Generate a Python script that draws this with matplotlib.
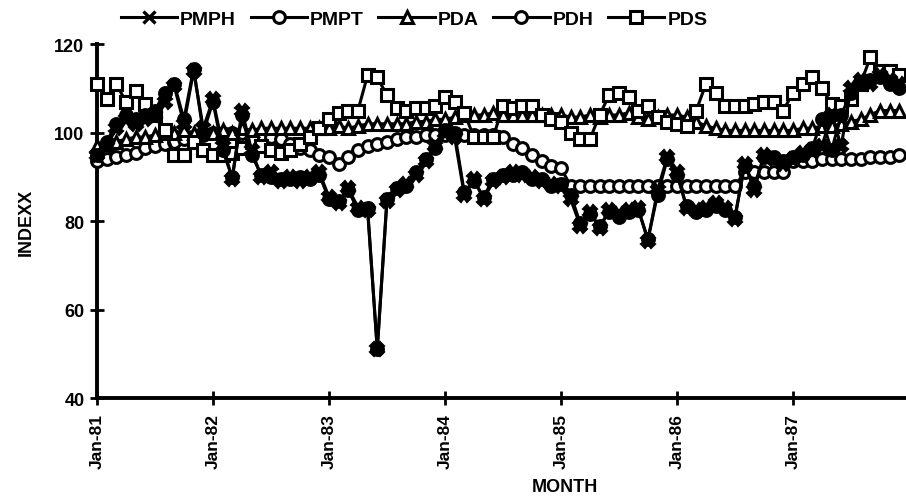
import matplotlib
matplotlib.use("Agg")
import matplotlib.pyplot as plt
from matplotlib.lines import Line2D
import numpy as np

plt.rcParams['font.family'] = ['Liberation Sans Narrow', 'Liberation Sans', 'DejaVu Sans']
plt.rcParams['font.weight'] = 'bold'

tick_labels = ["Jan-81", "Jan-82", "Jan-83", "Jan-84", "Jan-85", "Jan-86", "Jan-87"]

PMPH = [95, 97, 101, 103, 102, 103, 104, 107, 110.5, 102, 114, 101,
        107.5, 97, 89.5, 105, 96, 90, 91, 89, 90, 89, 90, 91,
        85.5, 84, 87.5, 83, 82.5, 51, 84.5, 87, 88.5, 90.5, 93.5, 97,
        100, 99, 86, 89.5, 85, 89, 90, 91, 90.5, 90, 89, 88.5,
        88, 85, 79, 82, 78.5, 82.5, 81.5, 82.5, 83, 75.5, 87, 94.5,
        91, 83, 82.5, 83, 84, 83, 80.5, 93, 87, 95, 94, 93,
        94, 95.5, 96, 97, 104, 97, 110, 112, 111, 113, 112, 111]

PMPT = [93.5, 94, 94.5, 95, 95.5, 96.5, 97, 97.5, 98, 98.5, 99, 99.5,
        100, 100, 100, 100, 99.5, 99.5, 99, 98.5, 97.5, 96.5, 96, 95,
        94.5, 93, 94.5, 96, 97, 97.5, 98, 98.5, 99, 99, 99.5, 99.5,
        99.5, 99.5, 99.5, 99.5, 99.5, 99.5, 99, 97.5, 96.5, 95, 93.5, 92.5,
        92, 88, 88, 88, 88, 88, 88, 88, 88, 88, 88, 88,
        88, 88, 88, 88, 88, 88, 88, 91, 91, 91, 91, 91,
        93.5, 93.5, 93.5, 94, 94, 94, 94, 94, 94.5, 94.5, 94.5, 95]

PDA = [97, 97.5, 98, 98.5, 99, 99, 99.5, 100, 100, 100.5, 100, 100,
       100, 100.5, 100, 101, 100.5, 101, 101, 101, 101, 101, 101, 101,
       101, 101.5, 101, 101.5, 102, 102, 102, 102, 102, 102.5, 102.5, 103,
       103, 103.5, 104, 104, 104, 104.5, 104, 104, 104, 104, 104, 104,
       104, 103.5, 103.5, 104, 103.5, 104, 104, 104.5, 103.5, 103, 103.5, 104,
       104, 103.5, 102.5, 101.5, 101, 100.5, 100.5, 100.5, 100.5, 100.5, 100.5, 100.5,
       100.5, 101, 101, 101.5, 101.5, 102, 102.5, 103, 104, 105, 105, 105]

PDH = [95, 98, 102, 104, 103, 104, 105, 109, 111, 103, 114.5, 100,
       107, 96, 90, 104, 95, 90.5, 90, 89.5, 89.5, 90, 89.5, 90.5,
       85, 84.5, 87, 82.5, 83, 51, 85, 87.5, 88, 91, 94, 96.5,
       100.5, 100, 86.5, 89, 85.5, 89.5, 90.5, 90.5, 91, 89.5, 89.5, 88,
       88.5, 86, 79.5, 81.5, 79, 82, 81, 82, 82.5, 76, 86, 94,
       90.5, 83.5, 82, 82.5, 83.5, 82.5, 81, 92.5, 88, 94.5, 94.5, 93.5,
       94.5, 95, 96.5, 103, 96, 104, 109, 111, 112, 112.5, 111, 110]

PDS = [111, 107.5, 111, 107, 109.5, 106.5, 104, 100.5, 95, 95, 98, 96,
       95, 95, 95.5, 96.5, 98, 97, 96, 95.5, 96, 97.5, 99, 101,
       103, 104.5, 105, 105, 113, 112.5, 108.5, 105.5, 105, 105.5, 105.5, 106,
       108, 107, 104.5, 99, 99, 99, 106, 105.5, 106, 106, 104, 103,
       102.5, 100, 98.5, 98.5, 104, 108.5, 109, 108, 105, 106, 103.5, 102.5,
       102, 101.5, 105, 111, 109, 106, 106, 106, 106.5, 107, 107, 105,
       109, 111, 112.5, 110, 106.5, 106, 107.5, 111, 117, 114, 114, 113]

months = np.arange(len(PDS))

fig = plt.figure(figsize=(9.06, 5.02), dpi=100)
ax = fig.add_axes([0.107, 0.205, 0.893, 0.705])

lw = 2.2
ms = 8.5
mw = 2.2
ax.plot(months, PMPT, color='black', lw=lw, marker='o', ms=ms, mfc='white', mec='black', mew=mw, clip_on=False, zorder=3)
ax.plot(months, PDA, color='black', lw=lw, marker='^', ms=ms, mfc='white', mec='black', mew=mw, clip_on=False, zorder=3)
ax.plot(months, PDS, color='black', lw=lw, marker='s', ms=ms, mfc='white', mec='black', mew=mw, clip_on=False, zorder=4)
ax.plot(months, PDH, color='black', lw=lw, marker='o', ms=ms, mfc='black', mec='black', mew=mw, clip_on=False, zorder=5)
ax.plot(months, PMPH, color='black', lw=lw, marker='X', ms=ms + 1.5, mfc='black', mec='black', mew=1.5, clip_on=False, zorder=5)

ax.set_xlim(0, 83.7)
ax.set_ylim(40, 120)
ax.set_yticks([40, 60, 80, 100, 120])
ax.set_xticks(np.arange(0, 84, 12))
ax.set_xticklabels(tick_labels, rotation=90, fontsize=12.5, fontweight='bold')
ax.set_yticklabels(['40', '60', '80', '100', '120'], fontsize=13, fontweight='bold')
ax.tick_params(axis='both', direction='inout', length=10, width=2, pad=4)
ax.tick_params(axis='x', pad=6)

for s in ['top', 'right']:
    ax.spines[s].set_visible(False)
for s in ['left', 'bottom']:
    ax.spines[s].set_linewidth(2.8)

ax.set_ylabel('INDEXX', fontsize=13, fontweight='bold', labelpad=14)
ax.set_xlabel('MONTH', fontsize=13, fontweight='bold')
ax.xaxis.set_label_coords((565 - 97) / 809, -0.225)

handles = [
    Line2D([], [], color='black', lw=lw, marker='x', ms=ms, mew=2.4),
    Line2D([], [], color='black', lw=lw, marker='o', ms=ms, mfc='white', mew=mw),
    Line2D([], [], color='black', lw=lw, marker='^', ms=ms, mfc='white', mew=mw),
    Line2D([], [], color='black', lw=lw, marker='o', ms=ms, mfc='white', mew=mw),
    Line2D([], [], color='black', lw=lw, marker='s', ms=ms, mfc='white', mew=mw),
]
fig.legend(handles, ['PMPH', 'PMPT', 'PDA', 'PDH', 'PDS'], loc='upper center',
           bbox_to_anchor=(0.457, 1.012), ncol=5, frameon=False,
           handlelength=2.9, handletextpad=0.15, columnspacing=0.75,
           prop={'weight': 'bold', 'size': 14})

fig.savefig('out.png', dpi=100)
